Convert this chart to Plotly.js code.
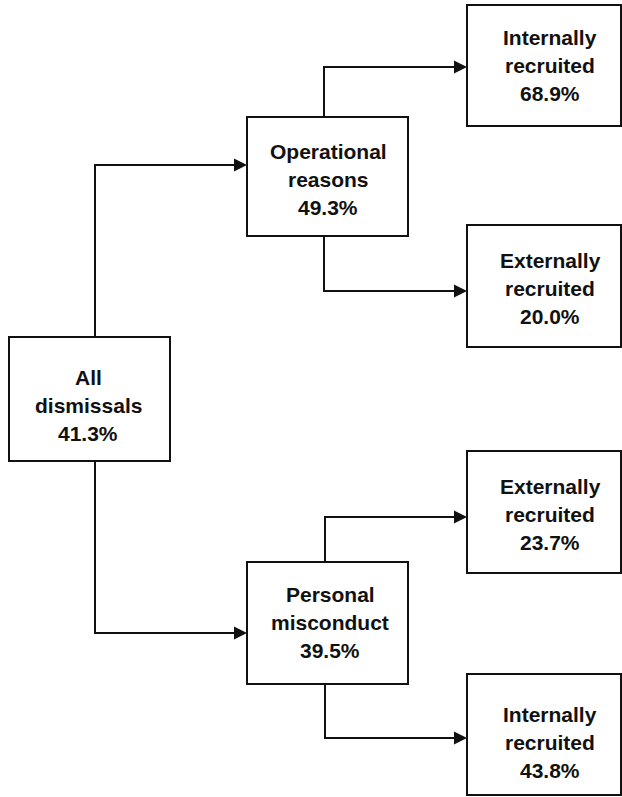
<!DOCTYPE html>
<html>
<head>
<meta charset="utf-8">
<script src="https://cdn.plot.ly/plotly-3.0.1.min.js"></script>
<style>html,body{margin:0;padding:0;background:#fff;}#chart{width:622px;height:797px;}</style>
</head>
<body>
<div id="chart"></div>
<script>
// ---- data ----
const nodeNames = ["All dismissals", "Operational reasons", "Internally recruited", "Externally recruited",
                   "Personal misconduct", "Externally recruited", "Internally recruited"];
const nodeLines = [["All", "dismissals"], ["Operational", "reasons"], ["Internally", "recruited"],
                   ["Externally", "recruited"], ["Personal", "misconduct"], ["Externally", "recruited"],
                   ["Internally", "recruited"]];
const nodeValues = [41.3, 49.3, 68.9, 20.0, 39.5, 23.7, 43.8];
// parent index of each node (-1 = root)
const nodeParent = [-1, 0, 1, 1, 0, 4, 4];

// ---- layout geometry (pixel coordinates, y downward) ----
const boxX0 = [9, 247, 467, 467, 247, 467, 467];
const boxX1 = [170, 408, 621, 621, 408, 621, 621];
const boxY0 = [337, 117, 5, 225, 562, 451, 674];
const boxY1 = [461, 236, 126, 347, 684, 573, 795];
const textX = [88, 328, 550, 550, 330, 550, 550];
const textY = [405, 179, 65, 288, 622, 514, 742];
const lineGap = 28;
// connector: x where it leaves parent, y of horizontal run
const connX = [null, 95, 324, 324, 95, 325, 325];
const connY = [null, 165, 67, 291, 633, 517, 738];

const shapes = [];
const annotations = [];
const traces = [];
const font = {family: "Liberation Sans, Arial, sans-serif", size: 21, color: "#111", weight: "bold"};

for (let i = 0; i < nodeNames.length; i++) {
  shapes.push({type: "rect", xref: "x", yref: "y", x0: boxX0[i], x1: boxX1[i], y0: boxY0[i], y1: boxY1[i],
               line: {color: "#111", width: 2}, fillcolor: "rgba(0,0,0,0)"});
  const lines = nodeLines[i].concat([nodeValues[i].toFixed(1) + "%"]);
  lines.forEach((t, k) => {
    annotations.push({x: textX[i], y: textY[i] + (k - 1) * lineGap, xref: "x", yref: "y", text: t,
                      showarrow: false, font: font, xanchor: "center", yanchor: "middle"});
  });
  const p = nodeParent[i];
  if (p >= 0) {
    const cy = connY[i];
    const startY = cy < boxY0[p] ? boxY0[p] : boxY1[p];
    const endX = boxX0[i];
    traces.push({type: "scatter", mode: "lines", x: [connX[i], connX[i], endX - 6], y: [startY, cy, cy],
                 line: {color: "#111", width: 2}, hoverinfo: "skip", showlegend: false});
    annotations.push({x: endX, y: cy, ax: endX - 14, ay: cy, xref: "x", yref: "y", axref: "x", ayref: "y",
                      text: "", showarrow: true, arrowhead: 2, arrowsize: 1.3, arrowwidth: 2,
                      arrowcolor: "#111", standoff: 0, startstandoff: 0});
  }
}

const layout = {
  width: 622, height: 797,
  margin: {l: 0, r: 0, t: 0, b: 0},
  paper_bgcolor: "#fff", plot_bgcolor: "#fff",
  xaxis: {range: [0, 622], visible: false, fixedrange: true},
  yaxis: {range: [797, 0], visible: false, fixedrange: true},
  shapes: shapes, annotations: annotations, showlegend: false
};
Plotly.newPlot("chart", traces, layout, {displayModeBar: false, staticPlot: true});
</script>
</body>
</html>
